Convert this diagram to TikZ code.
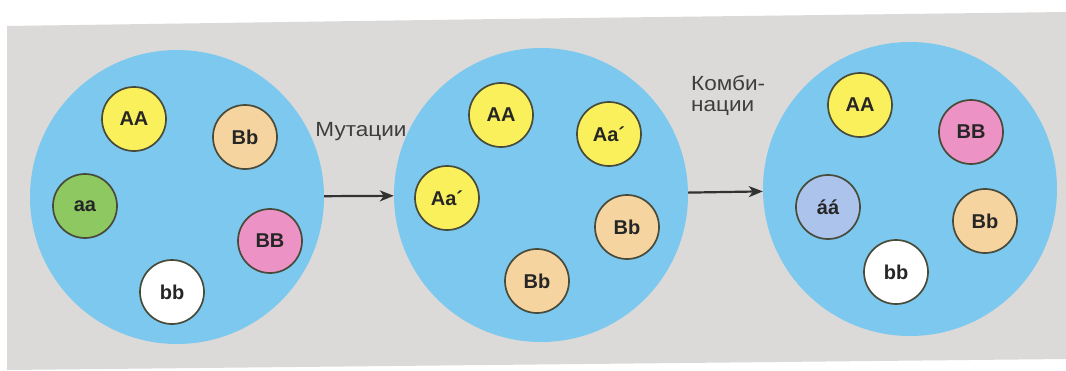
\documentclass[tikz,border=0pt]{standalone}
\usepackage{fontspec}
\setmainfont{Liberation Sans}
\newfontfamily\labelfont[FakeStretch=1.1]{Liberation Sans}
\usetikzlibrary{arrows.meta}

\definecolor{paper}{RGB}{220,218,216}
\definecolor{popblue}{RGB}{124,200,238}
\definecolor{rim}{RGB}{72,74,58}
\definecolor{yel}{RGB}{249,240,92}
\definecolor{peach}{RGB}{246,212,160}
\definecolor{leaf}{RGB}{142,200,96}
\definecolor{rose}{RGB}{236,146,196}
\definecolor{lilac}{RGB}{172,196,236}
\definecolor{ink}{RGB}{62,62,62}

\tikzset{
  pop/.style={circle, fill=popblue, minimum size=294pt, inner sep=0pt},
  gene/.style={circle, draw=rim, line width=1.7pt, minimum size=64pt, inner sep=0pt,
    text=black!85, font=\bfseries\fontsize{20}{20}\selectfont},
  lbl/.style={text=ink, font=\labelfont\fontsize{20.5}{21}\selectfont, inner sep=0pt},
  move/.style={draw=ink!80!black, line width=2.2pt, -{Stealth[length=14pt,width=11pt,inset=4pt]}}
}

\begin{document}
\begin{tikzpicture}[x=1pt, y=-1pt]
    \useasboundingbox (0,0) rectangle (1066,370);
    % paper
    \fill[white] (0,0) rectangle (1066,370);
    \fill[paper] (7,26) -- (500,19) -- (1066,12) -- (1066,359) -- (7,370) -- cycle;

    % populations
    \node[pop] (pop1) at (177,197) {};
    \node[pop] (pop2) at (541,195) {};
    \node[pop] (pop3) at (910,189) {};

    % first population
    \node[gene, fill=yel]   (p1AA) at (134,119) {AA};
    \node[gene, fill=peach] (p1Bb) at (245,137) {Bb};
    \node[gene, fill=leaf]  (p1aa) at (85,206)  {aa};
    \node[gene, fill=rose]  (p1BB) at (270,241) {BB};
    \node[gene, fill=white] (p1bb) at (172,292) {bb};

    % second population
    \node[gene, fill=yel]   (p2AA)  at (501,115) {AA};
    \node[gene, fill=yel]   (p2Aa)  at (609,134) {Aa´};
    \node[gene, fill=yel]   (p2Aal) at (447,198) {Aa´};
    \node[gene, fill=peach] (p2Bb)  at (627,227) {Bb};
    \node[gene, fill=peach] (p2Bbl) at (537,281) {Bb};

    % third population
    \node[gene, fill=yel]   (p3AA) at (860,105) {AA};
    \node[gene, fill=rose]  (p3BB) at (971,132) {BB};
    \node[gene, fill=lilac] (p3aa) at (828,207) {\'a\'a};
    \node[gene, fill=peach] (p3Bb) at (985,221) {Bb};
    \node[gene, fill=white] (p3bb) at (896,272) {bb};

    % arrows and labels
    \draw[move] (pop1) -- (pop2);
    \draw[move] (pop2) -- (pop3);
    \node[lbl, anchor=base] (mut) at (361,136) {Мутации};
    \node[lbl, align=left, anchor=base west] (comb) at (691,111) {Комби-\\нации};

  \end{tikzpicture}
\end{document}
